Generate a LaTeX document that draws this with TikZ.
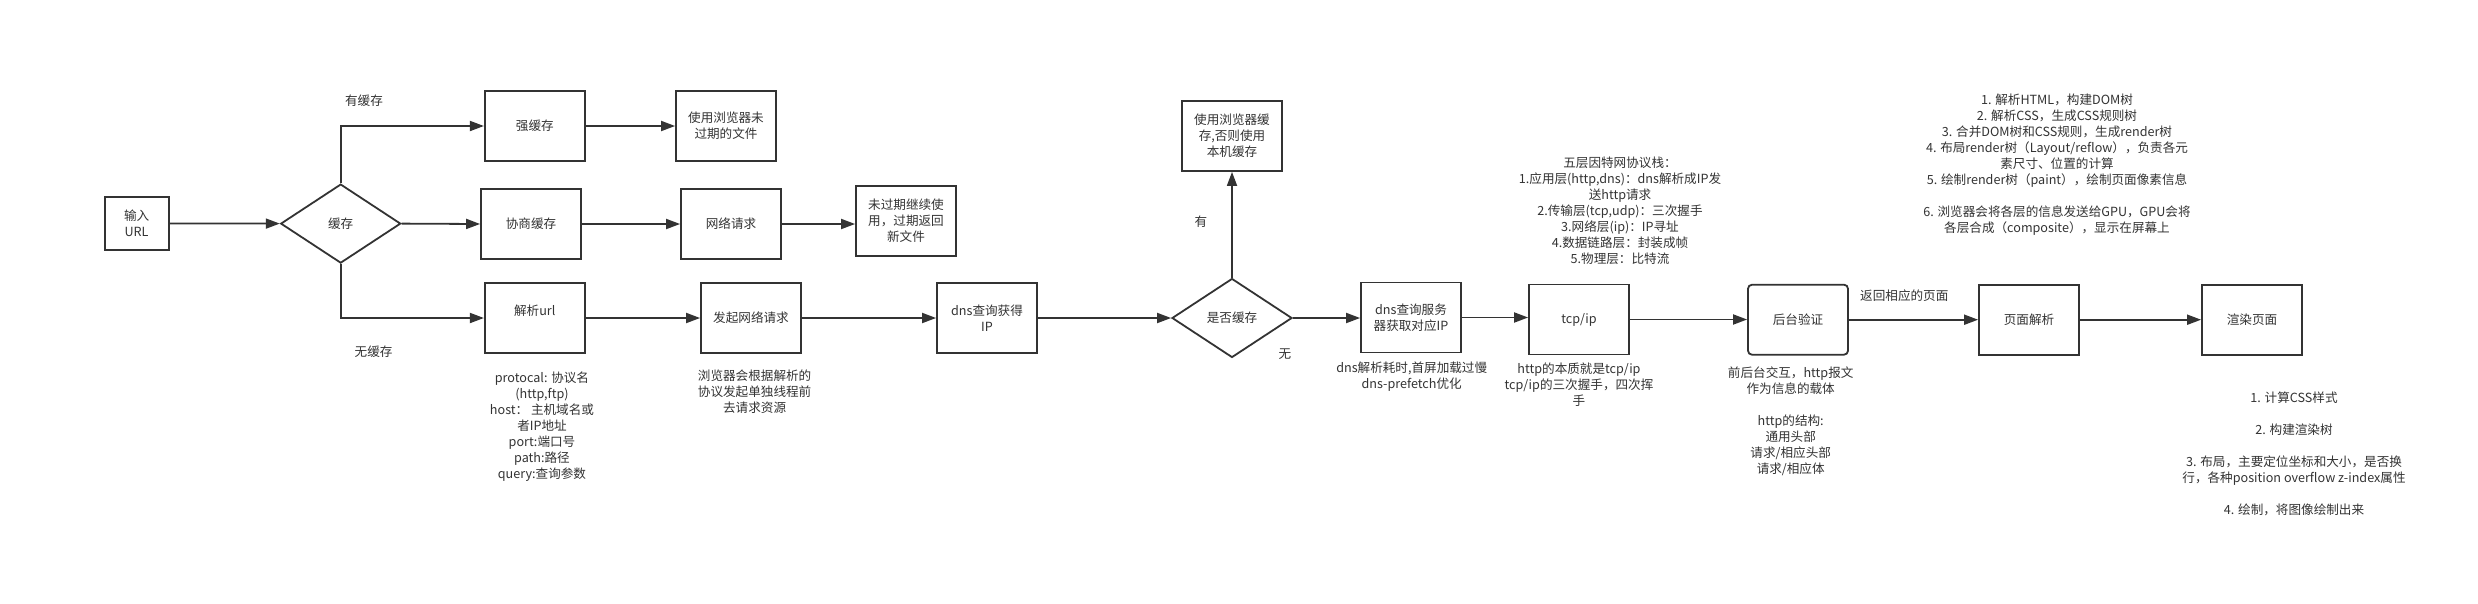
\documentclass[tikz,border=0pt]{standalone}
\usepackage{fontspec}
\setmainfont{Noto Sans CJK SC}
\usetikzlibrary{arrows.meta,shapes.geometric}
\definecolor{ink}{HTML}{333333}
\begin{document}
\begin{tikzpicture}[x=1pt,y=-1pt,
  every node/.style={font=\fontsize{12.6}{16}\selectfont, text=ink},
  box/.style={draw=ink, line width=1.8pt, minimum width=100pt, minimum height=70pt, inner sep=0pt, align=center},
  dia/.style={draw=ink, line width=1.8pt, diamond, aspect=1.5, minimum width=120pt, minimum height=79pt, inner sep=0pt},
  arr/.style={draw=ink, line width=1.8pt, -{Triangle[length=14pt,width=10pt]}},
  note/.style={align=center, inner sep=0pt},
  lab/.style={inner sep=0pt}
]
\fill[white] (0,0) rectangle (2478,603);
\useasboundingbox (0,0) rectangle (2478,603);

% nodes
\node[box, minimum width=64pt, minimum height=53pt] (url) at (136.6,223.5) {输入\\URL};
\node[dia] (c1) at (340.7,223.6) {缓存};
\node[box] (qiang) at (534.8,126) {强缓存};
\node[box] (xie) at (531,224) {协商缓存};
\node[box] (jx) at (534.8,318) {解析url\\~};
\node[box] (wf) at (726,126) {使用浏览器未\\过期的文件};
\node[box] (wl) at (731,224) {网络请求};
\node[box] (wgq) at (906,221) {未过期继续使\\用，过期返回\\新文件};
\node[box] (fq) at (751,318) {发起网络请求};
\node[box] (dnsip) at (987,318) {dns查询获得\\IP};
\node[dia] (c2) at (1232,318) {是否缓存};
\node[box] (llq) at (1232,136) {使用浏览器缓\\存,否则使用\\本机缓存};
\node[box] (dnsfw) at (1411,317.5) {dns查询服务\\器获取对应IP};
\node[box] (tcp) at (1579,319.5) {tcp/ip};
\node[box, rounded corners=4pt] (ht) at (1798,319.7) {后台验证};
\node[box] (ym) at (2029,319.7) {页面解析};
\node[box] (xr) at (2252,319.8) {渲染页面};

% connectors
\draw[arr] (url.east) -- (c1.west);
\draw[arr] (c1.north) |- (qiang.west);
\draw[arr] (c1.east) -- (xie.west);
\draw[arr] (c1.south) |- (jx.west);
\draw[arr] (qiang.east) -- (wf.west);
\draw[arr] (xie.east) -- (wl.west);
\draw[arr] (wl.east) -- (wl.east -| wgq.west);
\draw[arr] (jx.east) -- (fq.west);
\draw[arr] (fq.east) -- (dnsip.west);
\draw[arr] (dnsip.east) -- (c2.west);
\draw[arr] (c2.north) -- (llq.south);
\draw[arr] (c2.east) -- (c2.east -| dnsfw.west);
\draw[arr] (dnsfw.east) -- (dnsfw.east -| tcp.west);
\draw[arr] (tcp.east) -- (tcp.east -| ht.west);
\draw[arr] (ht.east) -- (ht.east -| ym.west);
\draw[arr] (ym.east) -- (ym.east -| xr.west);

% edge labels
\node[lab] (l1) at (364,100.7) {有缓存};
\node[lab] (l2) at (373.6,351.7) {无缓存};
\node[lab] (l3) at (1201,221.7) {有};
\node[lab] (l4) at (1285,354) {无};
\node[lab] (l5) at (1904.3,295.7) {返回相应的页面};

% notes
\node[note] (n1) at (542,427) {protocal: 协议名\\(http,ftp)\\host： 主机域名或\\者IP地址\\port:端口号\\path:路径\\query:查询参数};
\node[note] (n2) at (754.6,392) {浏览器会根据解析的\\协议发起单独线程前\\去请求资源};
\node[note] (n3) at (1411.7,376.7) {dns解析耗时,首屏加载过慢\\dns-prefetch优化};
\node[note] (n4) at (1620,210.8) {五层因特网协议栈：\\1.应用层(http,dns)：dns解析成IP发\\送http请求\\2.传输层(tcp,udp)：三次握手\\3.网络层(ip)：IP寻址\\4.数据链路层：封装成帧\\5.物理层：比特流};
\node[note] (n5) at (1579,384.5) {http的本质就是tcp/ip\\tcp/ip的三次握手，四次挥\\手};
\node[note] (n6) at (1790.7,420.8) {前后台交互，http报文\\作为信息的载体\\~\\http的结构:\\通用头部\\请求/相应头部\\请求/相应体};
\node[note] (n7) at (2057,165) {1. 解析HTML，构建DOM树\\2. 解析CSS，生成CSS规则树\\3. 合并DOM树和CSS规则，生成render树\\4. 布局render树（Layout/reflow），负责各元\\素尺寸、位置的计算\\5. 绘制render树（paint），绘制页面像素信息\\~\\6. 浏览器会将各层的信息发送给GPU，GPU会将\\各层合成（composite），显示在屏幕上};
\node[note] (n8) at (2294,454) {1. 计算CSS样式\\~\\2. 构建渲染树\\~\\3. 布局，主要定位坐标和大小，是否换\\行，各种position overflow z-index属性\\~\\4. 绘制，将图像绘制出来};
\end{tikzpicture}
\end{document}
